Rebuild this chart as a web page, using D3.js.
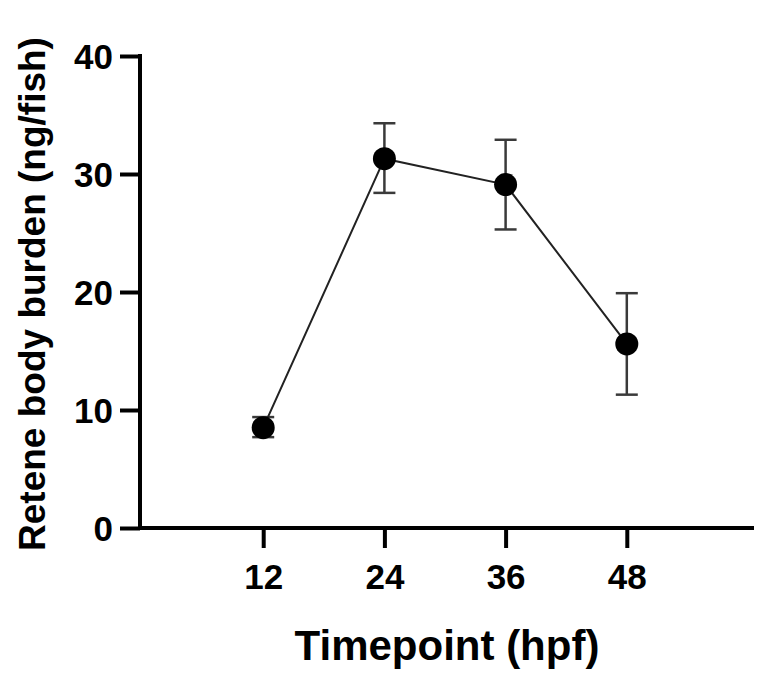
<!DOCTYPE html>
<html><head><meta charset="utf-8">
<script src="https://cdn.jsdelivr.net/npm/d3@7"></script>
<style>body{margin:0;background:#fff}svg{display:block}text{font-family:"Liberation Sans",Arial,sans-serif;font-weight:bold}</style>
</head><body><svg id="c" width="760" height="675"></svg>
<script>
const timepoints = [12, 24, 36, 48];
const means = [8.5, 31.3, 29.1, 15.6];
const errLow = [7.7, 28.4, 25.3, 11.3];
const errHigh = [9.4, 34.3, 32.9, 19.9];
const xTicks = [12, 24, 36, 48];
const yTicks = [0, 10, 20, 30, 40];

(function(){
const svg = d3.select("#c");
const mLeft = 140, mRight = 754, mTop = 56, mBottom = 528;
const x = d3.scaleLinear().domain([0, 60]).range([mLeft + 2, mRight - 6]);
const y = d3.scaleLinear().domain([0, 40]).range([mBottom, mTop]);

const yAxis = svg.append("g").attr("transform", `translate(${mLeft},0)`)
  .call(d3.axisLeft(y).tickValues(yTicks).tickSize(20).tickPadding(7).tickSizeOuter(0));
yAxis.select(".domain").remove();
yAxis.append("line").attr("x1",0).attr("x2",0).attr("y1",y(40)-2).attr("y2",mBottom+2).attr("stroke","#000").attr("stroke-width",4);
yAxis.selectAll(".tick line").attr("stroke","#000").attr("stroke-width",4);
yAxis.selectAll(".tick text").attr("font-size",35).attr("fill","#000").attr("dy","0.35em");

const xAxis = svg.append("g").attr("transform", `translate(0,${mBottom})`)
  .call(d3.axisBottom(x).tickValues(xTicks).tickSize(20).tickPadding(16));
xAxis.select(".domain").remove();
xAxis.append("line").attr("x1",mLeft-2).attr("x2",mRight).attr("y1",0).attr("y2",0).attr("stroke","#000").attr("stroke-width",4);
xAxis.selectAll(".tick line").attr("stroke","#000").attr("stroke-width",4);
xAxis.selectAll(".tick text").attr("font-size",35).attr("fill","#000");

const pts = timepoints.map((t,i)=>({t, m:means[i], lo:errLow[i], hi:errHigh[i]}));

const eb = svg.append("g").attr("stroke","#3a3a3a").attr("stroke-width",2.5);
pts.forEach(d=>{
  eb.append("line").attr("x1",x(d.t)).attr("x2",x(d.t)).attr("y1",y(d.lo)).attr("y2",y(d.hi));
  eb.append("line").attr("x1",x(d.t)-11).attr("x2",x(d.t)+11).attr("y1",y(d.lo)).attr("y2",y(d.lo));
  eb.append("line").attr("x1",x(d.t)-11).attr("x2",x(d.t)+11).attr("y1",y(d.hi)).attr("y2",y(d.hi));
});

svg.append("path").datum(pts)
  .attr("d", d3.line().x(d=>x(d.t)).y(d=>y(d.m)))
  .attr("fill","none").attr("stroke","#222").attr("stroke-width",2);

svg.selectAll("circle.p").data(pts).join("circle")
  .attr("cx",d=>x(d.t)).attr("cy",d=>y(d.m)).attr("r",11.5).attr("fill","#000");

svg.append("text").attr("x",447).attr("y",660).attr("text-anchor","middle")
  .attr("font-size",42).text("Timepoint (hpf)");
svg.append("text").attr("transform","translate(45,294) rotate(-90)").attr("text-anchor","middle")
  .attr("font-size",37).text("Retene body burden (ng/fish)");
})();
</script></body></html>
